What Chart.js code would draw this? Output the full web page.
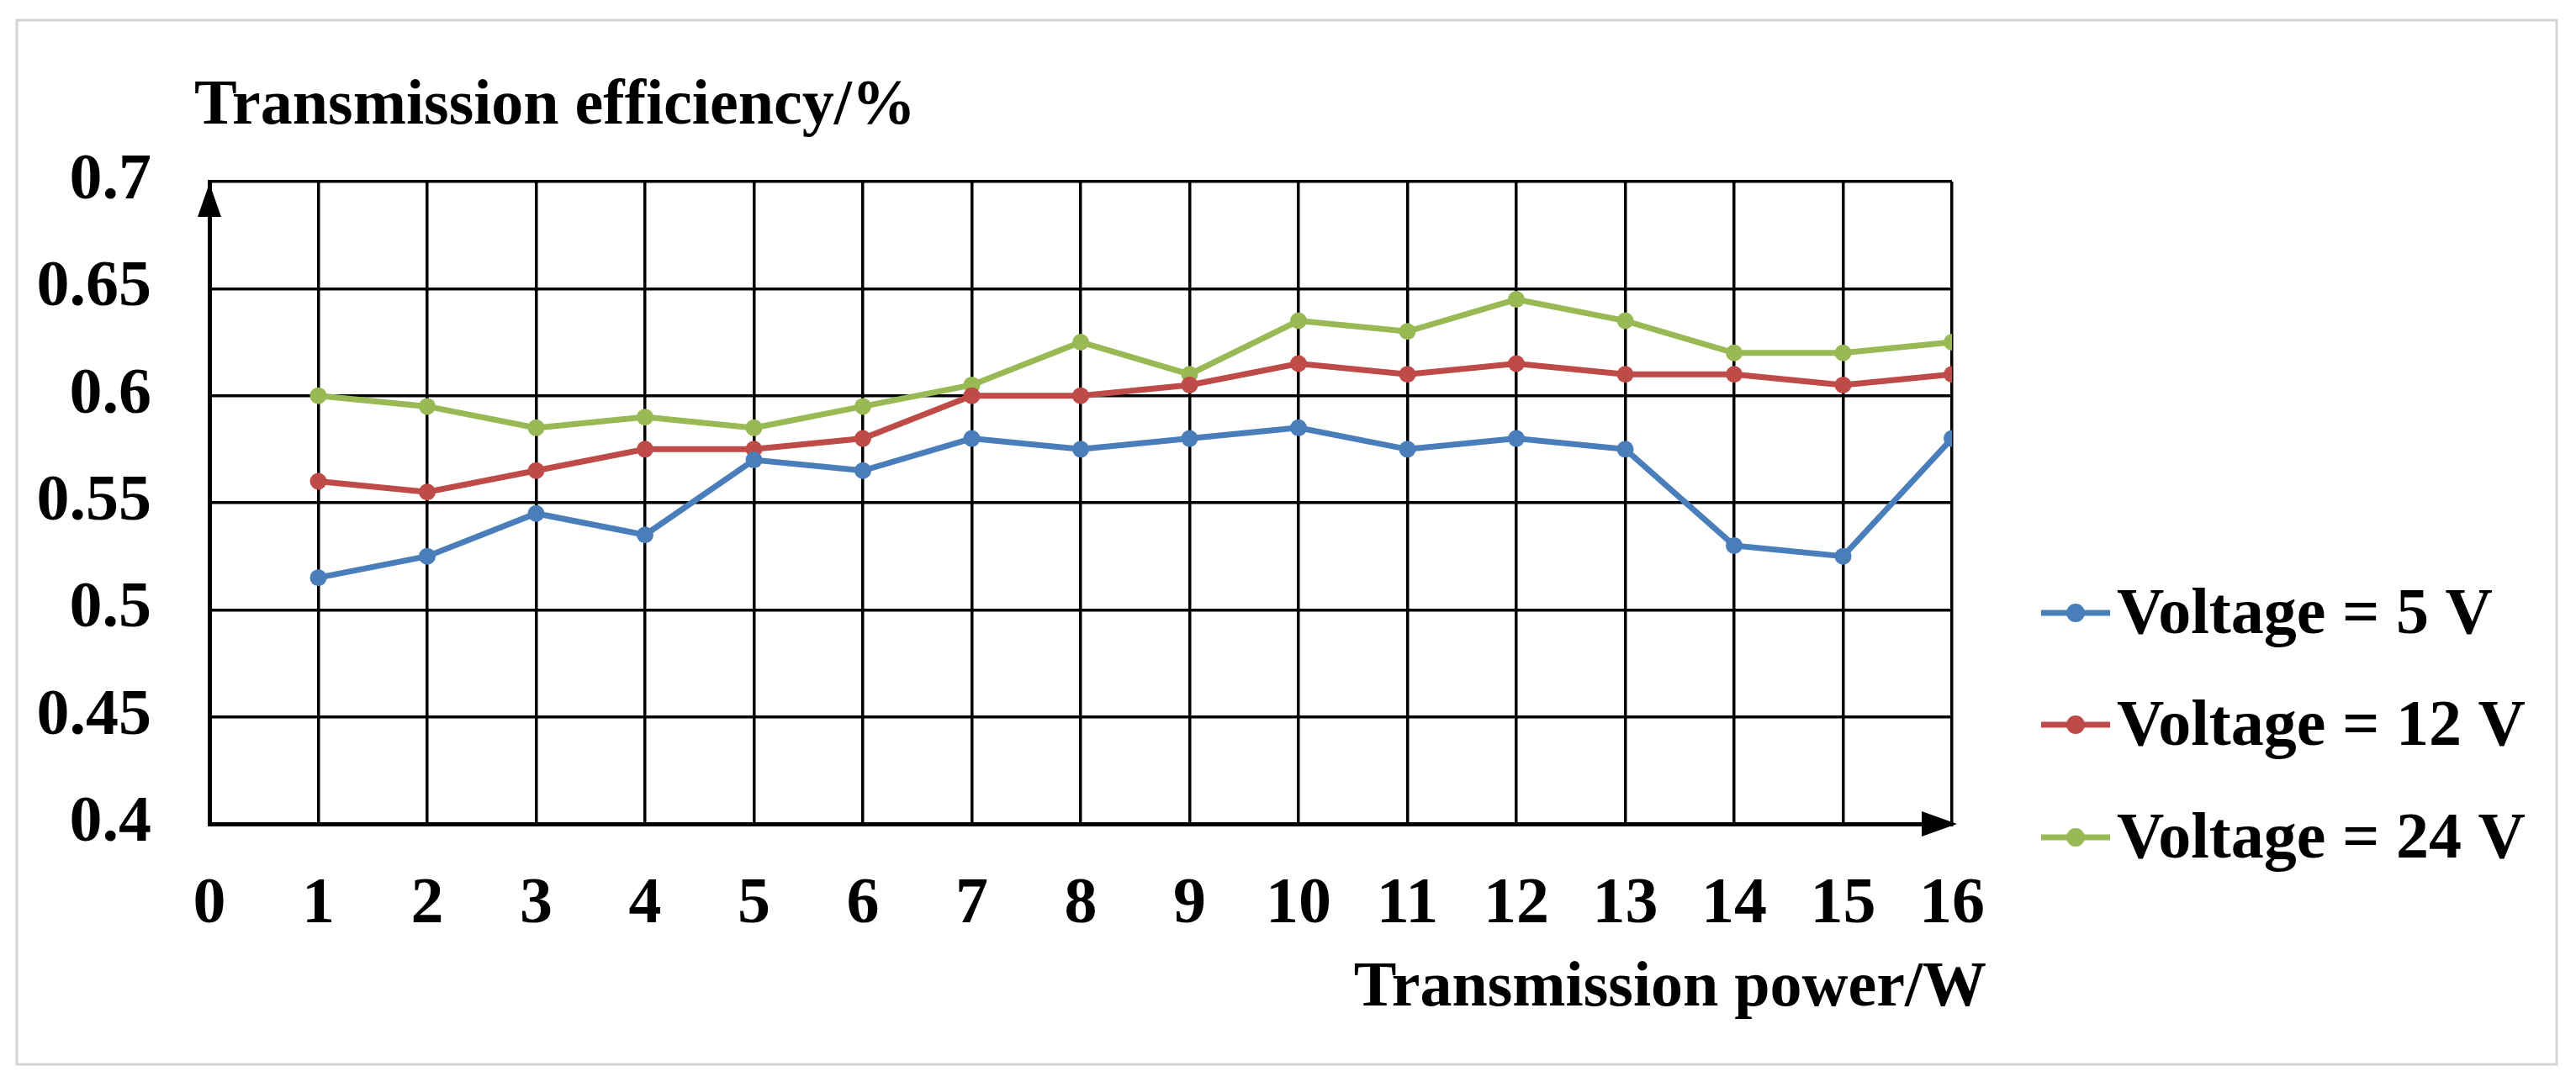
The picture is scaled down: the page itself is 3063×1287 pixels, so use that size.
<!DOCTYPE html>
<html>
<head>
<meta charset="utf-8">
<script src="https://cdn.jsdelivr.net/npm/chart.js@4/dist/chart.umd.min.js"></script>
<style>
  html, body { margin: 0; padding: 0; background: #fff; }
  #wrap { width: 3063px; height: 1287px; }
</style>
</head>
<body>
<div id="wrap"><canvas id="grafico" width="3063" height="1287"></canvas></div>
<script>
// datos
const potencia = [1, 2, 3, 4, 5, 6, 7, 8, 9, 10, 11, 12, 13, 14, 15, 16];
const ef5V  = [0.515, 0.525, 0.545, 0.535, 0.57, 0.565, 0.58, 0.575, 0.58, 0.585, 0.575, 0.58, 0.575, 0.53, 0.525, 0.58];
const ef12V = [0.56, 0.555, 0.565, 0.575, 0.575, 0.58, 0.6, 0.6, 0.605, 0.615, 0.61, 0.615, 0.61, 0.61, 0.605, 0.61];
const ef24V = [0.6, 0.595, 0.585, 0.59, 0.585, 0.595, 0.605, 0.625, 0.61, 0.635, 0.63, 0.645, 0.635, 0.62, 0.62, 0.625];
const etiquetas = ['Voltage = 5 V', 'Voltage = 12 V', 'Voltage = 24 V'];
const xTicks = ['0', '1', '2', '3', '4', '5', '6', '7', '8', '9', '10', '11', '12', '13', '14', '15', '16'];
const yTicks = ['0.4', '0.45', '0.5', '0.55', '0.6', '0.65', '0.7'];
const tituloY = 'Transmission efficiency/%';
const tituloX = 'Transmission power/W';

const colores = ['#4A7EBB', '#BE4B48', '#98B954'];
const fuente = 'bold 78px "Liberation Serif"';

function serie(valores) {
  return valores.map((v, i) => ({ x: potencia[i], y: v }));
}

// titulos, flechas, marco y leyenda
const extras = {
  id: 'extras',
  afterDraw(chart) {
    const ctx = chart.ctx;
    const a = chart.chartArea;
    ctx.save();
    // marco gris
    ctx.strokeStyle = '#d4d4d4';
    ctx.lineWidth = 3;
    ctx.strokeRect(20, 24, 3020, 1242);

    // flechas de los ejes
    ctx.fillStyle = '#000';
    ctx.beginPath();
    ctx.moveTo(a.left, a.top + 2);
    ctx.lineTo(a.left - 14, a.top + 42);
    ctx.lineTo(a.left + 14, a.top + 42);
    ctx.closePath();
    ctx.fill();
    ctx.beginPath();
    ctx.moveTo(a.right + 6, a.bottom);
    ctx.lineTo(a.right - 36, a.bottom - 15);
    ctx.lineTo(a.right - 36, a.bottom + 15);
    ctx.closePath();
    ctx.fill();

    // titulos
    ctx.font = 'bold 76px "Liberation Serif"';
    ctx.textBaseline = 'middle';
    ctx.textAlign = 'left';
    ctx.fillText(tituloY, a.left - 18, 127);
    ctx.textAlign = 'right';
    ctx.fillText(tituloX, a.right + 41, 1176);

    // leyenda
    ctx.font = fuente;
    ctx.textAlign = 'left';
    const filas = [729, 862, 996];
    chart.data.datasets.forEach((ds, i) => {
      const y = filas[i];
      ctx.strokeStyle = ds.borderColor;
      ctx.lineWidth = 7;
      ctx.beginPath();
      ctx.moveTo(2427, y);
      ctx.lineTo(2509, y);
      ctx.stroke();
      ctx.fillStyle = ds.borderColor;
      ctx.beginPath();
      ctx.arc(2468, y, 11, 0, Math.PI * 2);
      ctx.fill();
      ctx.fillStyle = '#000';
      ctx.fillText(ds.label, 2517, y + 4);
    });
    ctx.restore();
  }
};

const ctx = document.getElementById('grafico').getContext('2d');
new Chart(ctx, {
  type: 'line',
  data: {
    datasets: [ef5V, ef12V, ef24V].map((vals, i) => ({
      label: etiquetas[i],
      data: serie(vals),
      borderColor: colores[i],
      backgroundColor: colores[i],
      borderWidth: 7,
      pointRadius: 10,
      pointBorderWidth: 0,
      fill: false,
      tension: 0
    }))
  },
  options: {
    responsive: false,
    animation: false,
    devicePixelRatio: 1,
    layout: { padding: { left: 0, top: 216, right: 742, bottom: 0 } },
    plugins: {
      legend: { display: false },
      tooltip: { enabled: false }
    },
    scales: {
      x: {
        type: 'linear',
        min: 0,
        max: 16,
        afterFit(scale) { scale.height = 307; },
        grid: { color: '#000', lineWidth: 3.5, drawTicks: false },
        border: { color: '#000', width: 5 },
        ticks: {
          stepSize: 1,
          padding: 50,
          color: '#000',
          font: { family: 'Liberation Serif', weight: 'bold', size: 78 },
          callback: (v, i) => xTicks[i]
        }
      },
      y: {
        min: 0.4,
        max: 0.7,
        afterFit(scale) { scale.width = 249; },
        grid: { color: '#000', lineWidth: 3.5, drawTicks: false },
        border: { color: '#000', width: 5 },
        ticks: {
          stepSize: 0.05,
          padding: 69,
          color: '#000',
          font: { family: 'Liberation Serif', weight: 'bold', size: 78 },
          callback: (v, i) => yTicks[i]
        }
      }
    }
  },
  plugins: [extras]
});
</script>
</body>
</html>
